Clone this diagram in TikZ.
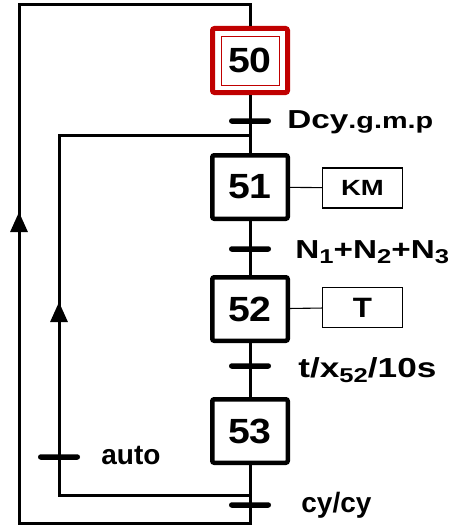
\documentclass[tikz,border=0pt]{standalone}
\usepackage{fontspec}
\setmainfont{Liberation Sans}
\newfontfamily\stepfam[FakeStretch=1.12]{Liberation Sans}
\newfontfamily\labfam[FakeStretch=1.28]{Liberation Sans}
\newfontfamily\actfam[FakeStretch=1.25]{Liberation Sans}
\usetikzlibrary{arrows.meta,positioning}
\definecolor{initred}{RGB}{192,0,0}
\newcommand{\idx}[1]{\raisebox{-0.2em}{\fontsize{20}{20}\selectfont #1}}
\tikzset{
	stepbox/.style={draw, line width=4.5pt, rounded corners=2pt, minimum width=75.5pt, minimum height=63.5pt, inner sep=0pt, font=\stepfam\bfseries\fontsize{35}{40}\selectfont},
	initstep/.style={stepbox, draw=initred, line width=5pt, minimum width=75pt, minimum height=64pt},
	initinner/.style={draw=initred, line width=1pt},
	actbox/.style={draw, line width=1.1pt, minimum width=80pt, minimum height=40pt, inner sep=0pt, font=\actfam\bfseries\fontsize{22}{24}\selectfont},
	trans/.style={fill=black, rounded corners=2.7pt, minimum width=42pt, minimum height=5.5pt, inner sep=0pt},
	cond/.style={inner sep=0pt, font=\labfam\bfseries\fontsize{26}{30}\selectfont},
	plaincond/.style={inner sep=0pt, font=\bfseries\fontsize{28}{32}\selectfont},
	flow/.style={line width=3pt},
	link/.style={line width=1.1pt},
	tip/.style={-{Triangle[length=20pt,width=17pt]}},
}
\begin{document}
\begin{tikzpicture}[x=1pt,y=-1pt]
	\useasboundingbox (0,0) rectangle (456,527);
	
	% steps
	\node[initstep] (s50) at (250,60.5) {50};
	\node[stepbox] (s51) at (250,187) {51};
	\node[stepbox] (s52) at (250,309) {52};
	\node[stepbox] (s53) at (250,431) {53};
	\draw[initinner] ([xshift=11.5pt,yshift=-10.5pt]s50.north west) rectangle ([xshift=-10.5pt,yshift=9.5pt]s50.south east);
	
	% actions
	\node[actbox] (a51) at (362.5,188) {KM};
	\node[actbox, font=\stepfam\bfseries\fontsize{28}{30}\selectfont] (a52) at (362.5,307.5) {T};
	\draw[link] (s51) -- (a51);
	\draw[link] (s52) -- (a52);
	
	% loop corners
	\coordinate (otop) at (250,5);
	\coordinate (obot) at (250,523);
	\coordinate (oarr) at (19,212);
	\coordinate (itop) at (250,135);
	\coordinate (ibot) at (250,495);
	\coordinate (iarr) at (59,302);
	
	\draw[flow] (s50) -- (s51);
	\draw[flow] (s51) -- (s52);
	\draw[flow] (s52) -- (s53);
	\draw[flow] (s53) -- (obot) -| (otop -| oarr) -- (otop) -- (s50);
	\draw[flow] (ibot) -| (itop -| iarr) -- (itop);
	\draw[flow,tip] ([yshift=-30pt]oarr) -- (oarr);
	\draw[flow,tip] ([yshift=-30pt]iarr) -- (iarr);
	
	% transitions
	\node[trans] (t1) at (250,121) {};
	\node[trans] (t2) at (250,249) {};
	\node[trans] (t3) at (250,366) {};
	\node[trans] (t4) at (250,505) {};
	\node[trans] (ta) at (59,457) {};
	
	\node[cond, right=16pt of t1, yshift=-1pt] (c1) {Dcy{\fontsize{22.5}{26}\selectfont .g.m.p}};
	\node[cond, right=24pt of t2, yshift=-3pt] (c2) {N\idx{1}+N\idx{2}+N\idx{3}};
	\node[cond, right=27pt of t3, yshift=-4pt, font=\labfam\bfseries\fontsize{27.5}{30}\selectfont] (c3) {t/x\idx{52}/10s};
	\node[plaincond, right=30pt of t4] (c4) {cy/cy};
	\node[plaincond, right=21pt of ta, yshift=2pt] (ca) {auto};
\end{tikzpicture}
\end{document}
